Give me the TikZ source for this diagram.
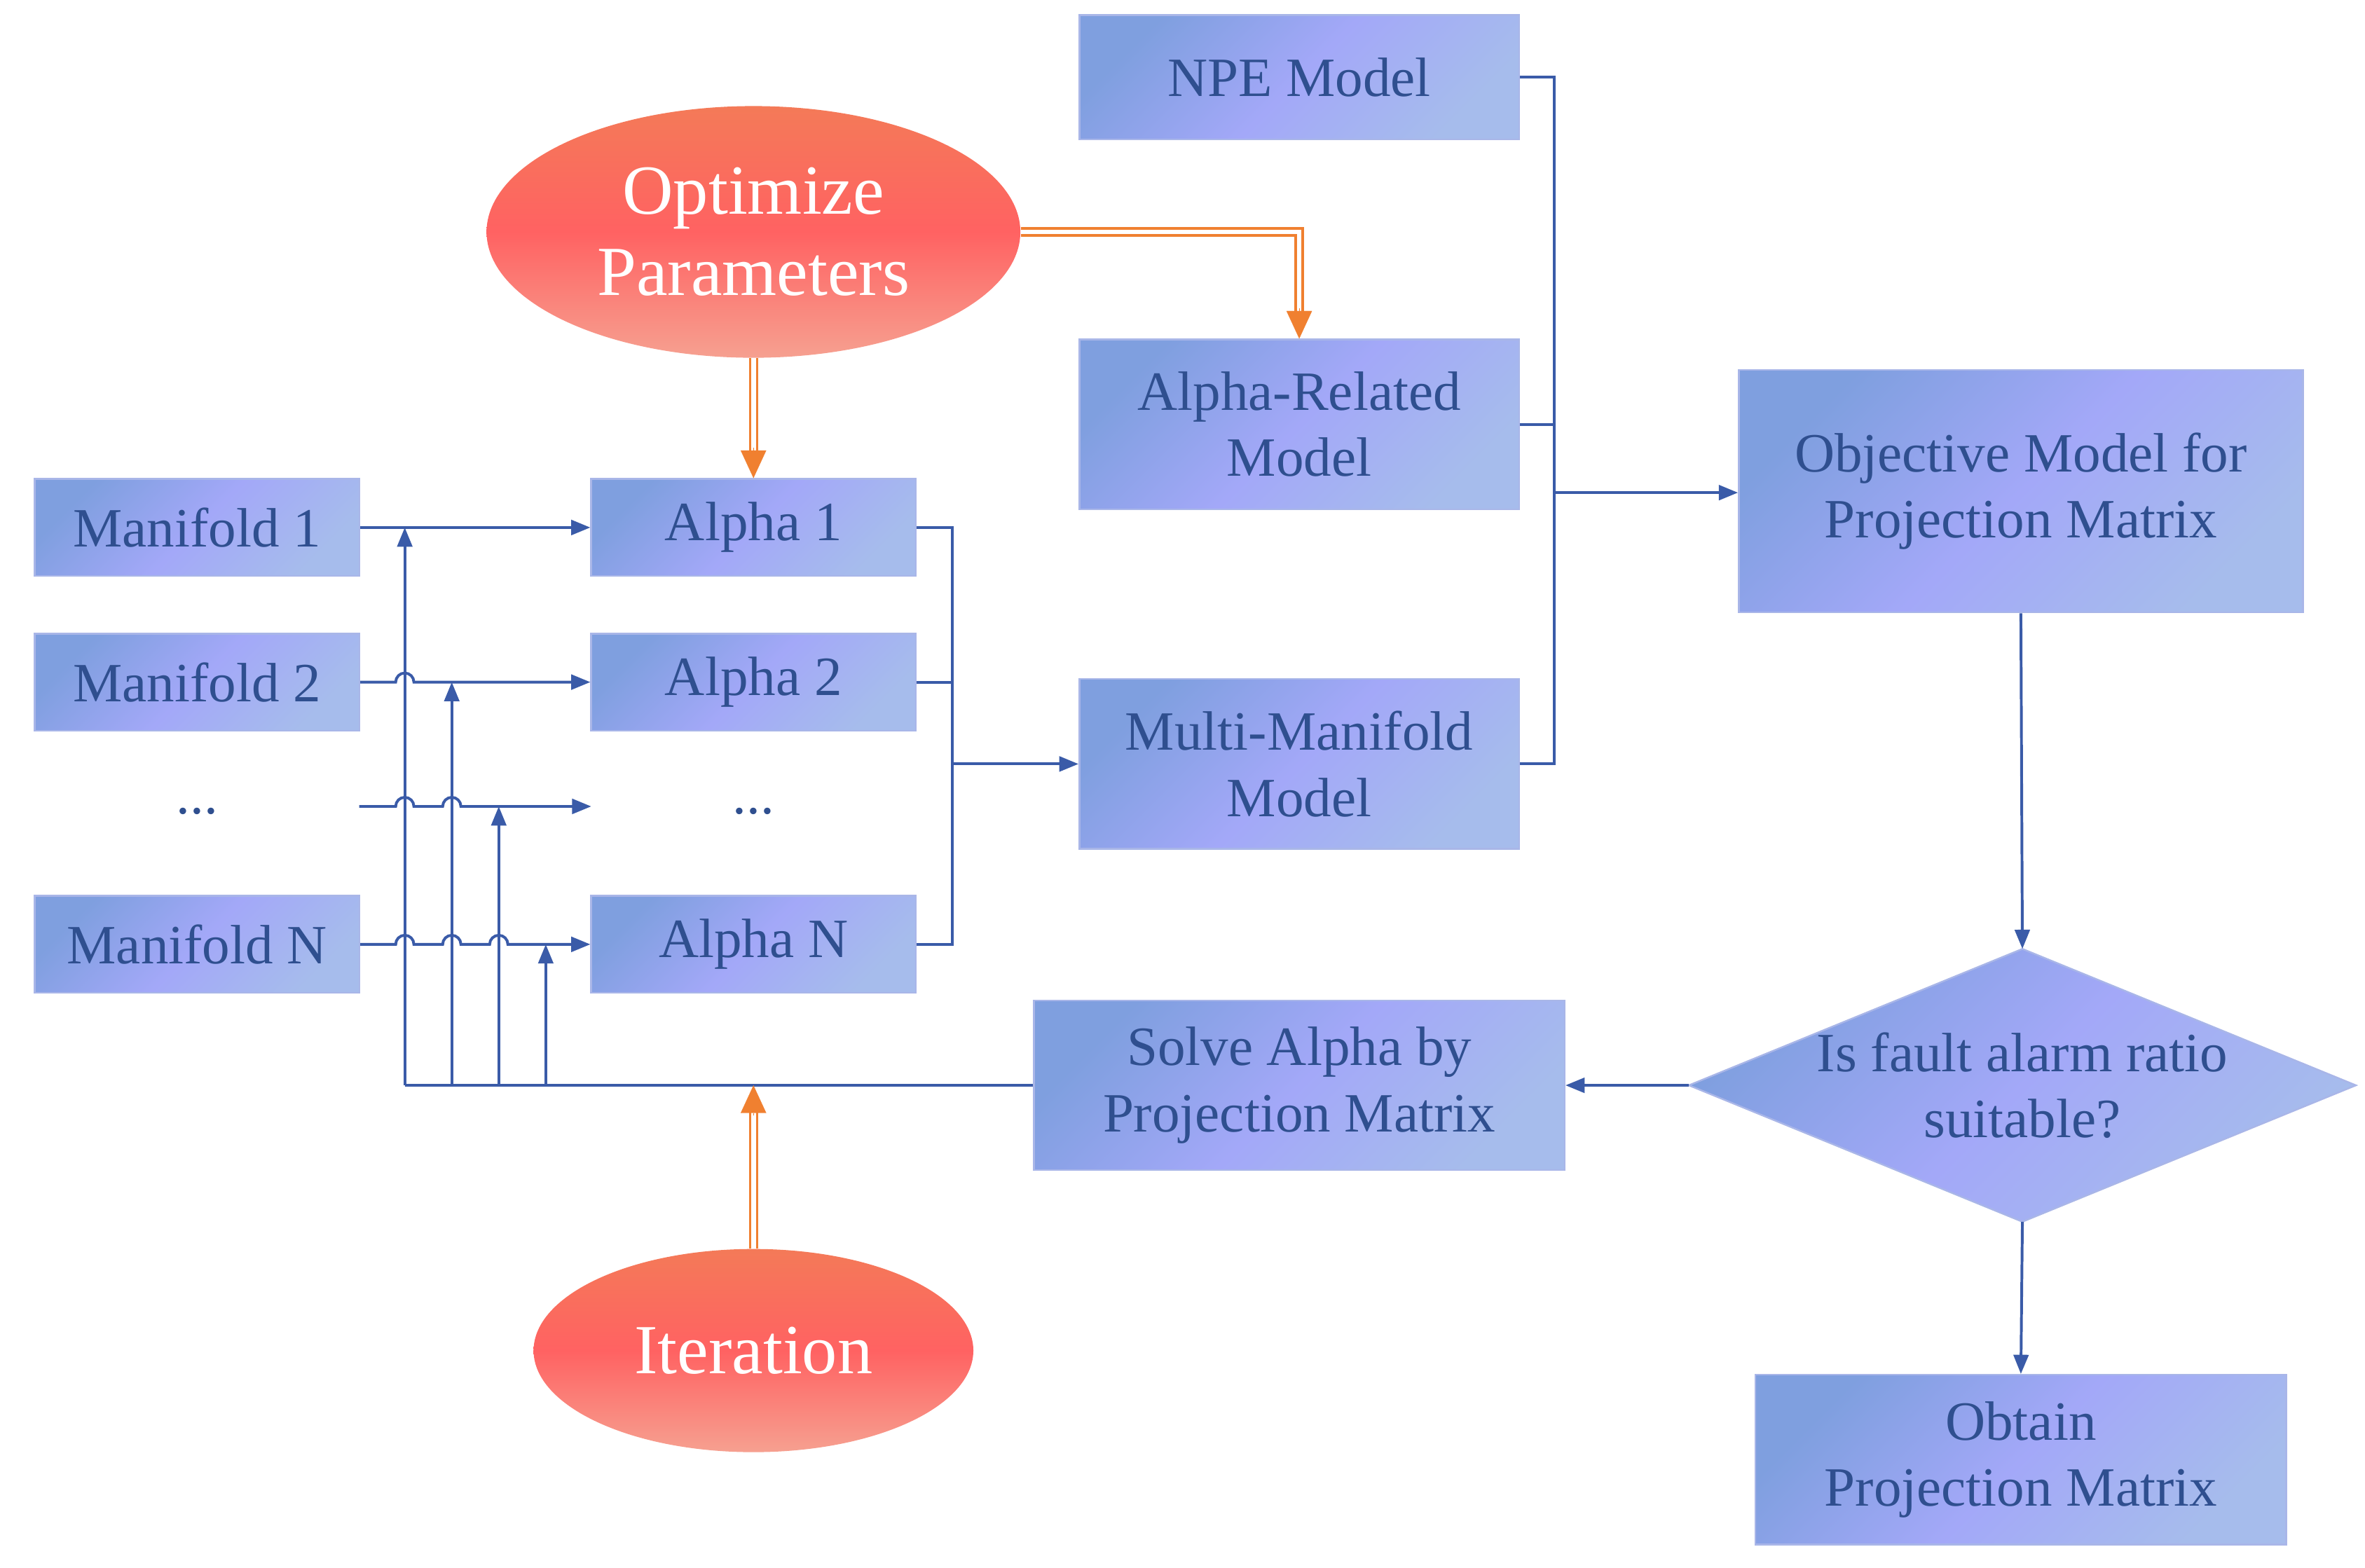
\documentclass[tikz,border=0pt]{standalone}
\usepackage{fontspec}
\setmainfont{Liberation Serif}
\usetikzlibrary{shapes.geometric,arrows.meta,calc}
\definecolor{bxA}{HTML}{7F9FDF}
\definecolor{bxB}{HTML}{A3A8F8}
\definecolor{bxC}{HTML}{A6BCEC}
\definecolor{bxD}{HTML}{A9B6E8}
\definecolor{txt}{HTML}{2F4F8F}
\definecolor{ln}{HTML}{3A5BA8}
\definecolor{orA}{HTML}{F08030}
\definecolor{elA}{HTML}{F47A58}
\definecolor{elB}{HTML}{FF6262}
\definecolor{elC}{HTML}{F6A090}
\begin{document}
\begin{tikzpicture}[x=0.025cm,y=-0.025cm,
 grad/.style={draw=bxD,line width=0.8pt,left color=bxA,right color=bxC,middle color=bxB,shading angle=45},
 box/.style={grad,text=txt,align=center,font=\fontsize{26}{31}\selectfont,inner sep=0pt},
 ell/.style={ellipse,draw=none,top color=elA,bottom color=elC,middle color=elB,text=white,align=center,
   font=\fontsize{33}{38}\selectfont,inner sep=0pt},
 dtext/.style={text=txt,font=\fontsize{26}{31}\selectfont},
 con/.style={draw=ln,line width=1.3pt},
 arr/.style={con,-{Triangle[length=9pt,width=7pt]}},
 odbl/.style={draw=orA,double=white,double distance=2.2pt,line width=1.1pt},
 otip/.style={draw=orA,fill=orA,line width=0.1pt,-{Triangle[length=13pt,width=12pt]}}]
\useasboundingbox (0,0) rectangle (1560,1034);
% boxes
\node[box,minimum width=7.25cm,minimum height=2.05cm] (npe) at (857,51) {NPE Model};
\node[ell,minimum width=8.8cm,minimum height=4.15cm] (opt) at (497,153) {Optimize\\Parameters};
\node[box,minimum width=7.25cm,minimum height=2.8cm] (arm) at (857,280) {Alpha-Related\\Model};
\node[box,minimum width=9.3cm,minimum height=4cm] (obj) at (1333,324) {Objective Model for\\Projection Matrix};
\node[box,minimum width=5.35cm,minimum height=1.6cm] (m1) at (130,348) {Manifold 1};
\node[box,minimum width=5.35cm,minimum height=1.6cm] (m2) at (130,450) {Manifold 2};
\node[dtext] (md) at (130,535) {...};
\node[box,minimum width=5.35cm,minimum height=1.6cm] (mn) at (130,623) {Manifold N};
\node[box,minimum width=5.35cm,minimum height=1.6cm] (a1) at (497,348) {Alpha 1};
\node[box,minimum width=5.35cm,minimum height=1.6cm] (a2) at (497,450) {Alpha 2};
\node[dtext] (ad) at (497,535) {...};
\node[box,minimum width=5.35cm,minimum height=1.6cm] (an) at (497,623) {Alpha N};
\node[box,minimum width=7.25cm,minimum height=2.8cm] (mm) at (857,504) {Multi-Manifold\\Model};
% diamond
\coordinate (dn) at (1334,626);
\coordinate (ds) at (1334,806);
\coordinate (dw) at (1114,716);
\coordinate (de) at (1554,716);
\path[grad] (dn) -- (de) -- (ds) -- (dw) -- cycle;
\node[text=txt,align=center,font=\fontsize{26}{31}\selectfont] (dia) at (1334,716) {Is fault alarm ratio\\suitable?};
\node[box,minimum width=8.75cm,minimum height=2.8cm] (sol) at (857,716) {Solve Alpha by\\Projection Matrix};
\node[ell,minimum width=7.25cm,minimum height=3.35cm] (it) at (497,891) {Iteration};
\node[box,minimum width=8.75cm,minimum height=2.8cm] (obt) at (1333,963) {Obtain\\Projection Matrix};
% coordinates
\coordinate (rb) at (1025,325);
\coordinate (lb) at (628,504);
\coordinate (v1) at (267,716);
\coordinate (v2) at (298,716);
\coordinate (v3) at (329,716);
\coordinate (v4) at (360,716);
\coordinate (ms) at (237,532);
\coordinate (as) at (390,532);
% right bus
\draw[con] (npe.east) -| (rb |- mm.east) -- (mm.east);
\draw[con] (arm.east) -- (rb |- arm.east);
\draw[arr] (rb) -- (rb -| obj.west);
\draw[arr] (obj.south) -- (dn);
\draw[arr] (dw) -- (sol.east);
\draw[arr] (ds) -- (obt.north);
% alpha bus
\draw[con] (a1.east) -| (lb |- an.east) -- (an.east);
\draw[con] (a2.east) -- (lb |- a2.east);
\draw[arr] (lb) -- (lb -| mm.west);
% feedback
\draw[con] (sol.west) -- (v1);
\draw[arr] (v1) -- (v1 |- m1.east);
\draw[arr] (v2) -- (v2 |- m2.east);
\draw[arr] (v3) -- (v3 |- ms);
\draw[arr] (v4) -- (v4 |- mn.east);
% manifold to alpha with hops
\draw[arr] (m1.east) -- (a1.west);
\draw[arr] (m2.east) -- ([xshift=-0.15cm]v1 |- m2.east) arc[start angle=180,end angle=0,radius=0.15cm] -- (a2.west);
\draw[arr] (ms) -- ([xshift=-0.15cm]v1 |- ms) arc[start angle=180,end angle=0,radius=0.15cm]
  -- ([xshift=-0.15cm]v2 |- ms) arc[start angle=180,end angle=0,radius=0.15cm] -- (as);
\draw[arr] (mn.east) -- ([xshift=-0.15cm]v1 |- mn.east) arc[start angle=180,end angle=0,radius=0.15cm]
  -- ([xshift=-0.15cm]v2 |- mn.east) arc[start angle=180,end angle=0,radius=0.15cm]
  -- ([xshift=-0.15cm]v3 |- mn.east) arc[start angle=180,end angle=0,radius=0.15cm] -- (an.west);
% orange arrows
\draw[odbl] (opt.east) -| ([yshift=0.45cm]arm.north);
\draw[otip] ([yshift=0.5cm]arm.north) -- (arm.north);
\draw[odbl] (opt.south) -- ([yshift=0.45cm]a1.north);
\draw[otip] ([yshift=0.5cm]a1.north) -- (a1.north);
\draw[odbl] (it.north) -- ([yshift=-0.45cm]it.north |- sol.west);
\draw[otip] ([yshift=-0.5cm]it.north |- sol.west) -- (it.north |- sol.west);
\end{tikzpicture}
\end{document}
